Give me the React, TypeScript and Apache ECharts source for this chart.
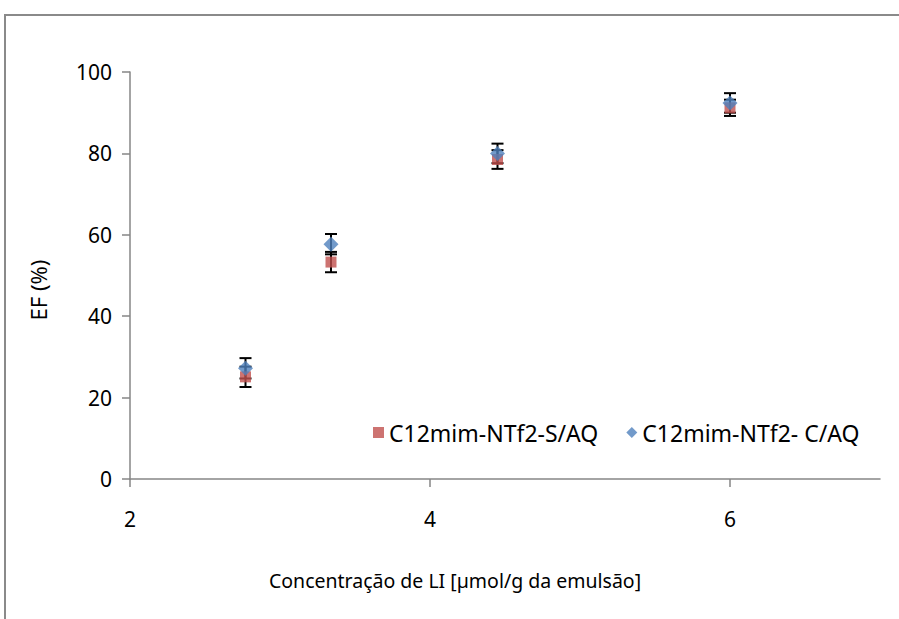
import React, { useEffect, useRef } from "react";
import * as echarts from "echarts";

const xValues = [2.77, 3.34, 4.45, 6.0];
const sValues = [25.1, 53.3, 78.5, 91.2];
const sErrors = [2.5, 2.5, 2.3, 2.0];
const cValues = [27.2, 57.7, 80.0, 92.4];
const cErrors = [2.5, 2.5, 2.4, 2.4];
const xTicks = [2, 4, 6];
const sName = "C12mim-NTf2-S/AQ";
const cName = "C12mim-NTf2- C/AQ";
const xTitle = "Concentração de LI [µmol/g da emulsão]";
const yTitle = "EF (%)";

const FONT = "Noto Sans";

export default function App() {
  const ref = useRef<HTMLDivElement>(null);
  useEffect(() => {
    if (!ref.current) return;
    const chart = echarts.init(ref.current, null, { renderer: "svg" });
    const errData: number[][] = [];
    xValues.forEach((x, i) => {
      errData.push([x, sValues[i] - sErrors[i], sValues[i] + sErrors[i]]);
      errData.push([x, cValues[i] - cErrors[i], cValues[i] + cErrors[i]]);
    });
    const renderErr = (params: any, api: any) => {
      const x = api.value(0);
      const lo = api.coord([x, api.value(1)]);
      const hi = api.coord([x, api.value(2)]);
      const w = 6;
      const style = { stroke: "#000", lineWidth: 2 };
      return {
        type: "group",
        children: [
          { type: "line", shape: { x1: lo[0], y1: lo[1], x2: hi[0], y2: hi[1] }, style },
          { type: "line", shape: { x1: lo[0] - w, y1: lo[1], x2: lo[0] + w, y2: lo[1] }, style },
          { type: "line", shape: { x1: hi[0] - w, y1: hi[1], x2: hi[0] + w, y2: hi[1] }, style },
        ],
      };
    };
    chart.setOption({
      animation: false,
      textStyle: { fontFamily: FONT },
      grid: { left: 130, right: 19, top: 72, bottom: 140 },
      xAxis: {
        type: "value",
        min: 2,
        max: 7,
        interval: 2,
        splitLine: { show: false },
        axisLine: { lineStyle: { color: "#868686", width: 1.5 } },
        axisTick: { length: 8, customValues: xTicks, lineStyle: { color: "#868686", width: 1.5 } },
        axisLabel: { customValues: xTicks, margin: 29, color: "#000", fontSize: 21, fontFamily: FONT },
      },
      yAxis: {
        type: "value",
        min: 0,
        max: 100,
        interval: 20,
        splitLine: { show: false },
        axisLine: { show: true, lineStyle: { color: "#868686", width: 1.5 } },
        axisTick: { show: true, length: 8, lineStyle: { color: "#868686", width: 1.5 } },
        axisLabel: { margin: 18, color: "#000", fontSize: 21, fontFamily: FONT },
      },
      legend: {
        left: 368,
        top: 416,
        itemWidth: 11,
        itemHeight: 11,
        itemGap: 28,
        textStyle: { fontSize: 23, color: "#000", fontFamily: FONT },
        data: [
          { name: sName, icon: "rect" },
          { name: cName, icon: "diamond" },
        ],
      },
      series: [
        {
          type: "custom",
          renderItem: renderErr,
          data: errData,
          z: 1,
          silent: true,
        },
        {
          name: sName,
          type: "scatter",
          symbol: "rect",
          symbolSize: 11,
          itemStyle: { color: "#C0504D" },
          data: xValues.map((x, i) => [x, sValues[i]]),
          z: 2,
        },
        {
          name: cName,
          type: "scatter",
          symbol: "diamond",
          symbolSize: 15,
          itemStyle: { color: "#4F81BD" },
          data: xValues.map((x, i) => [x, cValues[i]]),
          z: 3,
        },
      ],
      graphic: [
        {
          type: "rect",
          shape: { x: 5, y: 15, width: 1200, height: 1200 },
          style: { fill: "none", stroke: "#8a8a8a", lineWidth: 2 },
          silent: true,
        },
        {
          type: "text",
          x: 455,
          y: 580,
          style: { text: xTitle, fontSize: 19.5, fontFamily: FONT, fill: "#000", align: "center", verticalAlign: "middle" },
        },
        {
          type: "text",
          x: 38,
          y: 290,
          rotation: Math.PI / 2,
          style: { text: yTitle, fontSize: 22, fontFamily: FONT, fill: "#000", align: "center", verticalAlign: "middle" },
        },
      ],
    });
    return () => chart.dispose();
  }, []);
  return (
    <div
      ref={ref}
      style={{ position: "absolute", left: 0, top: 0, width: 899, height: 619, background: "#fff" }}
    />
  );
}
